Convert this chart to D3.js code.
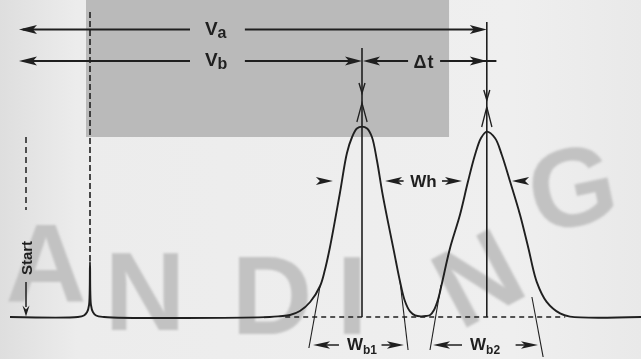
<!DOCTYPE html>
<html>
<head>
<meta charset="utf-8">
<script src="https://cdnjs.cloudflare.com/ajax/libs/d3/7.8.5/d3.min.js"></script>
<style>
  html, body { margin: 0; padding: 0; background: #ececec; }
  svg { display: block; font-family: "Liberation Sans", Arial, sans-serif; }
</style>
</head>
<body>
<div id="chart"></div>
<script>
// elution volume (mL) and detector signal
const traceVolume = [-0.5, 1.62, 1.81, 1.91, 1.97, 2.0, 2.03, 2.09, 2.19, 2.44,
  7.62, 7.94, 8.25, 8.56, 8.88, 9.19, 9.34, 9.5, 9.81, 10.03, 10.19, 10.34, 10.5,
  10.66, 10.81, 10.97, 11.13, 11.31, 11.5, 11.69, 11.84, 12.0, 12.16, 12.34, 12.5,
  12.63, 12.75, 12.88, 13.0, 13.25, 13.56, 13.81, 14.03, 14.22, 14.4,
  14.66, 14.87, 15.13, 15.44, 15.7, 15.96, 16.27, 16.69, 17.0, 19.22];
const traceSignal = [0, 0, 0.75, 2.5, 6, 27.5, 6, 2.5, 0.75, 0,
  0, 0.4, 1.0, 3.0, 7.5, 15.5, 23.5, 35, 62, 82, 90, 94.3, 95.2,
  94.3, 90, 78, 62.6, 47.7, 32.7, 17.6, 8, 2.8, 0.8, 0.3, 0.5,
  1.0, 3.5, 9, 17, 34.4, 51, 67.6, 81, 89.5, 92.7,
  89.4, 81, 67.6, 51, 34.4, 17.6, 7.6, 1.8, 0.2, 0];

const peakVolume = [10.5, 14.4];      // Vb, Va
const peakHeight = [95.2, 92.7];
const deadVolume = 2.0;
const startVolume = 0;
// base width end points from the tangents
const baseWidthStart = [8.97, 12.72];
const baseWidthEnd = [11.81, 16.0];

const labelsV = [['V', 'a'], ['V', 'b']];
const labelDt = '\u0394t';
const labelWh = 'Wh';
const labelsWb = [['W', 'b1'], ['W', 'b2']];
const labelStart = 'Start';

const width = 641, height = 359;
const x = d3.scaleLinear().domain([0, 19.2]).range([26, 640.4]);
const y = d3.scaleLinear().domain([0, 100]).range([317, 117]);

const ink = '#1f1f1f';

const svg = d3.select('#chart').append('svg')
  .attr('width', width)
  .attr('height', height);

const defs = svg.append('defs');
const grad = defs.append('linearGradient').attr('id', 'paper');
grad.append('stop').attr('offset', '0%').attr('stop-color', '#dedede');
grad.append('stop').attr('offset', '12%').attr('stop-color', '#ececec');
grad.append('stop').attr('offset', '80%').attr('stop-color', '#efefef');
grad.append('stop').attr('offset', '100%').attr('stop-color', '#e9e9e9');
defs.append('filter').attr('id', 'soft')
  .append('feGaussianBlur').attr('stdDeviation', 1);

svg.append('rect')
  .attr('width', width).attr('height', height)
  .attr('fill', 'url(#paper)');

// shaded box behind the retention arrows
svg.append('rect')
  .attr('x', x(1.875)).attr('y', 0)
  .attr('width', x(13.22) - x(1.875))
  .attr('height', y(90))
  .attr('fill', '#bababa');

// faint watermark
const wm = svg.append('g')
  .attr('fill', '#c2c2c2')
  .attr('filter', 'url(#soft)')
  .style('font-weight', 'bold')
  .style('font-size', '112px');
[['A', 46, 302, 0], ['N', 145, 330, 0], ['D', 272, 334, 0], ['I', 352, 334, 0],
 ['N', 496, 312, -28], ['G', 580, 225, -12]].forEach(([ch, tx, ty, r]) => {
  wm.append('text')
    .attr('text-anchor', 'middle')
    .attr('transform', `translate(${tx},${ty}) rotate(${r})`)
    .text(ch);
});

// arrowhead pointing along angle (deg), tip at (tx, ty)
function arrowhead(g, tx, ty, angle, len = 17, half = 4.5) {
  g.append('path')
    .attr('d', `M0,0 L${-len},${-half} L${-len + 4},0 L${-len},${half} Z`)
    .attr('transform', `translate(${tx},${ty}) rotate(${angle})`)
    .attr('fill', ink);
}

function hline(g, v0, v1, s, w = 1.8) {
  g.append('line')
    .attr('x1', x(v0)).attr('x2', x(v1))
    .attr('y1', y(s)).attr('y2', y(s))
    .attr('stroke', ink).attr('stroke-width', w);
}

const ann = svg.append('g');

// dead volume marker
ann.append('line')
  .attr('x1', x(deadVolume)).attr('x2', x(deadVolume))
  .attr('y1', y(152.5)).attr('y2', y(27.5))
  .attr('stroke', ink).attr('stroke-width', 1.6)
  .attr('stroke-dasharray', '6,3');

// start marker
ann.append('line')
  .attr('x1', x(startVolume)).attr('x2', x(startVolume))
  .attr('y1', y(90)).attr('y2', y(53.5))
  .attr('stroke', ink).attr('stroke-width', 1.5)
  .attr('stroke-dasharray', '6,4');
ann.append('text')
  .attr('transform', `translate(${x(startVolume) + 6},${y(29.5)}) rotate(-90)`)
  .attr('text-anchor', 'middle')
  .attr('fill', ink)
  .style('font-size', '15px').style('font-weight', 'bold')
  .text(labelStart);
ann.append('line')
  .attr('x1', x(startVolume)).attr('x2', x(startVolume))
  .attr('y1', y(17.5)).attr('y2', y(5))
  .attr('stroke', ink).attr('stroke-width', 1.5);
arrowhead(ann, x(startVolume), y(0.3), 90, 11, 3.5);

// baseline extrapolated under the peaks
ann.append('line')
  .attr('x1', x(8.1)).attr('x2', x(16.85))
  .attr('y1', y(0)).attr('y2', y(0))
  .attr('stroke', ink).attr('stroke-width', 1.3)
  .attr('stroke-dasharray', '5,4');

// peak maxima lines, down arrows and tangent apexes
const lineTop = [134.5, 147.5];
const arrowTip = [112, 108.5];
const apexTop = [107, 105];
const apexFoot = [97.5, 95];
peakVolume.forEach((v, i) => {
  ann.append('line')
    .attr('x1', x(v)).attr('x2', x(v))
    .attr('y1', y(lineTop[i])).attr('y2', y(0))
    .attr('stroke', ink).attr('stroke-width', 1.6);
  ann.append('path')
    .attr('d', `M${x(v) - 3},${y(arrowTip[i]) - 10} L${x(v)},${y(arrowTip[i])} L${x(v) + 3},${y(arrowTip[i]) - 10}`)
    .attr('fill', 'none').attr('stroke', ink).attr('stroke-width', 1.4);
  ann.append('path')
    .attr('d', `M${x(v - 0.16)},${y(apexFoot[i])} L${x(v)},${y(apexTop[i])} L${x(v + 0.16)},${y(apexFoot[i])}`)
    .attr('fill', 'none').attr('stroke', ink).attr('stroke-width', 1.3);
});

// tangents down to below the baseline
const tangents = [
  [[9.19, 15.5], [8.84, -15.5]],
  [[11.69, 17.6], [11.94, -16.5]],
  [[12.97, 16], [12.625, -16.5]],
  [[15.81, 10], [16.16, -20]]
];
tangents.forEach(([a, b]) => {
  ann.append('line')
    .attr('x1', x(a[0])).attr('y1', y(a[1]))
    .attr('x2', x(b[0])).attr('y2', y(b[1]))
    .attr('stroke', ink).attr('stroke-width', 1.1);
});

// trace
svg.append('path')
  .datum(traceVolume.map((v, i) => [v, traceSignal[i]]))
  .attr('fill', 'none')
  .attr('stroke', ink)
  .attr('stroke-width', 1.9)
  .attr('stroke-linejoin', 'round')
  .attr('d', d3.line().x(d => x(d[0])).y(d => y(d[1])).curve(d3.curveCatmullRom.alpha(0.5)));

// Va and Vb arrows
const vRow = [143.75, 128];
const vEnd = [peakVolume[1], peakVolume[0]];
vRow.forEach((s, i) => {
  hline(ann, -0.1, 5.125, s);
  hline(ann, 6.84, vEnd[i] - 0.2, s);
  arrowhead(ann, x(-0.22), y(s), 180, 18);
  arrowhead(ann, x(vEnd[i]), y(s), 0);
  const t = ann.append('text')
    .attr('x', x(5.59)).attr('y', y(s) + 5)
    .attr('fill', ink).style('font-weight', 'bold');
  t.append('tspan').style('font-size', '19px').text(labelsV[i][0]);
  t.append('tspan').style('font-size', '16px').attr('dy', 3).text(labelsV[i][1]);
});

// delta t
hline(ann, peakVolume[0] + 0.3, 11.94, 128);
hline(ann, 12.94, peakVolume[1] + 0.3, 128);
arrowhead(ann, x(peakVolume[0]) + 1, y(128), 180, 17);
arrowhead(ann, x(peakVolume[1]), y(128), 0);
ann.append('text')
  .attr('x', x(12.44)).attr('y', y(128) + 6.5)
  .attr('text-anchor', 'middle')
  .attr('fill', ink)
  .style('font-size', '18px').style('font-weight', 'bold')
  .style('letter-spacing', '1px')
  .text(labelDt);

// Wh
const whRow = 68;
const whTips = [[9.59, 0], [11.22, 180], [13.625, 0], [15.19, 180]];
whTips.forEach(([v, a]) => arrowhead(ann, x(v), y(whRow), a, 17, 4));
hline(ann, 11.5, 11.8, whRow, 1.6);
hline(ann, 13.0, 13.3, whRow, 1.6);
ann.append('text')
  .attr('x', x(12.42)).attr('y', y(whRow) + 6)
  .attr('text-anchor', 'middle')
  .attr('fill', ink)
  .style('font-size', '17px').style('font-weight', 'bold')
  .text(labelWh);

// Wb1, Wb2
const wbRow = -14;
const wbLabelAt = [10.03, 13.875];
baseWidthStart.forEach((v0, i) => {
  const v1 = baseWidthEnd[i];
  arrowhead(ann, x(v0), y(wbRow), 180, 17, 3.8);
  arrowhead(ann, x(v1), y(wbRow), 0, 17, 3.8);
  hline(ann, v0 + 0.4, wbLabelAt[i] - 0.25, wbRow, 1.5);
  hline(ann, v1 - 0.7, v1 - 0.4, wbRow, 1.5);
  const t = ann.append('text')
    .attr('x', x(wbLabelAt[i])).attr('y', y(wbRow) + 5)
    .attr('fill', ink).style('font-weight', 'bold');
  t.append('tspan').style('font-size', '17px').text(labelsWb[i][0]);
  t.append('tspan').style('font-size', '12px').attr('dy', 4).text(labelsWb[i][1]);
});
</script>
</body>
</html>
